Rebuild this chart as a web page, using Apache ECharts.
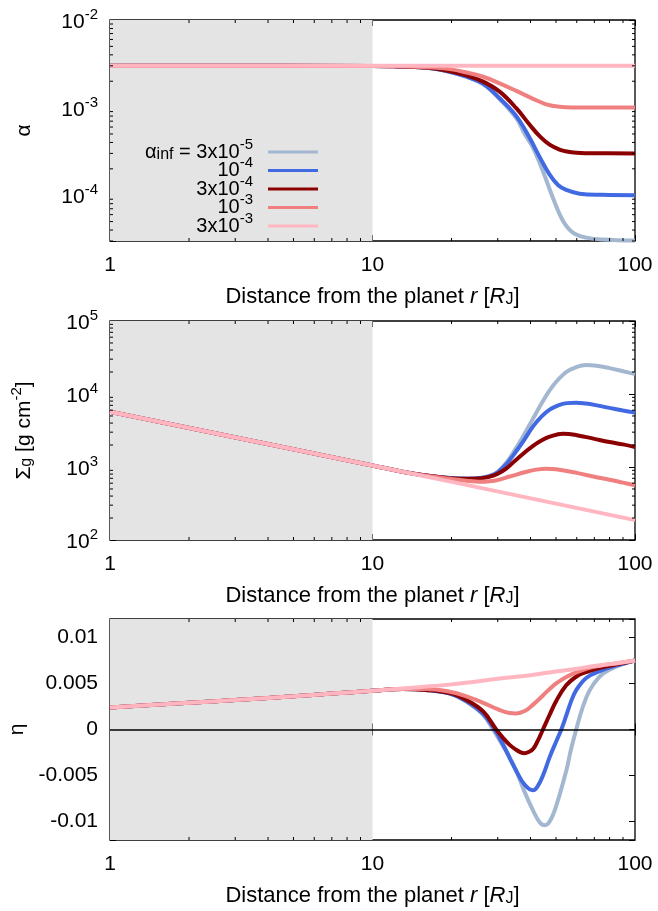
<!DOCTYPE html>
<html><head><meta charset="utf-8">
<script src="https://cdn.jsdelivr.net/npm/echarts@6/dist/echarts.min.js"></script>
<style>html,body{margin:0;padding:0;background:#fff;}#c{width:658px;height:911px;}</style>
</head><body><div id="c"></div>
<script>
const FONT = '"Liberation Sans", Arial, Helvetica, sans-serif';

// ---- series meta ----
const seriesNames = ['a3e-5', 'a1e-4', 'a3e-4', 'a1e-3', 'a3e-3'];
const legendLabels = ['{b|α}{sub|inf}{b| = 3x10}{sup|-5}', '{b|10}{sup|-4}', '{b|3x10}{sup|-4}', '{b|10}{sup|-3}', '{b|3x10}{sup|-3}'];
const colors = ['#a4b7d0', '#4169e1', '#8b0000', '#f08080', '#ffb6c1'];

// ---- ticks ----
const xTickValues = [1, 10, 100];
const xTickLabels = ['1', '10', '100'];
const minorMantissas = [2, 3, 4, 5, 6, 7, 8, 9];
const xMinorDecades = [1, 10];
const alphaTickExps = [-4, -3, -2];
const alphaTickLabels = ['{b|10}{sup|-4}', '{b|10}{sup|-3}', '{b|10}{sup|-2}'];
const alphaMinorDecades = [1e-5, 1e-4, 1e-3];
const sigmaTickExps = [2, 3, 4, 5];
const sigmaTickLabels = ['{b|10}{sup|2}', '{b|10}{sup|3}', '{b|10}{sup|4}', '{b|10}{sup|5}'];
const sigmaMinorDecades = [1e2, 1e3, 1e4];
const etaTickValues = [-0.01, -0.005, 0, 0.005, 0.01];
const etaTickLabels = ['-0.01', '-0.005', '0', '0.005', '0.01'];

// ---- alpha(r) ----
const alpha_3e5 = [[1,3.0e-3],[10,2.99e-3],[12,2.96e-3],[14.5,2.9e-3],[17,2.8e-3],[19.7,2.56e-3],[22.8,2.25e-3],[26.4,1.85e-3],[30.5,1.25e-3],[35.3,7.57e-4],[38,5.0e-4],[40.9,3.46e-4],[44.6,1.88e-4],[48.7,9.3e-5],[53.2,5.07e-5],[58,3.74e-5],[65.2,3.28e-5],[75,3.12e-5],[100,3.03e-5]];
const alpha_1e4 = [[1,3.0e-3],[10,2.99e-3],[12,2.96e-3],[14.5,2.9e-3],[17,2.8e-3],[19.7,2.57e-3],[22.8,2.26e-3],[26.4,1.87e-3],[30.5,1.28e-3],[35.3,8.0e-4],[39.7,4.5e-4],[43.4,2.7e-4],[47.3,1.72e-4],[51,1.3e-4],[54.7,1.15e-4],[61.5,1.04e-4],[75,1.01e-4],[100,1.0e-4]];
const alpha_3e4 = [[1,3.0e-3],[10,2.99e-3],[12,2.96e-3],[14.5,2.91e-3],[17,2.82e-3],[19.7,2.6e-3],[22.8,2.33e-3],[26.4,1.98e-3],[30.5,1.52e-3],[35.3,9.84e-4],[39.7,6.36e-4],[43.4,4.69e-4],[47.3,3.77e-4],[51.6,3.31e-4],[55,3.15e-4],[59.8,3.06e-4],[70,3.01e-4],[100,3.0e-4]];
const alpha_1e3 = [[1,3.0e-3],[10,2.99e-3],[12,2.97e-3],[14.5,2.93e-3],[17,2.86e-3],[19.7,2.75e-3],[22.8,2.52e-3],[26.4,2.25e-3],[30.5,1.89e-3],[35.3,1.55e-3],[40.9,1.26e-3],[45.9,1.09e-3],[51.6,1.02e-3],[58,1.003e-3],[100,1.0e-3]];
const alpha_3e3 = [[1,3.0e-3],[100,3.0e-3]];

// ---- Sigma_g(r) ----
const sigma_3e5 = [[1,5700],[10,1050],[13,862],[16,765],[19.7,708],[23,692],[26,712],[28,760],[30,860],[32.4,1150],[35,1750],[37.5,2650],[40.9,4600],[44.6,8000],[48.7,13000],[54.7,20000],[60,23500],[65.2,24900],[70,24600],[80,22600],[90,20500],[100,18700]];
const sigma_1e4 = [[1,5700],[10,1050],[13,862],[16,765],[19.7,706],[23,690],[26,708],[28,752],[30,845],[32.4,1100],[35,1580],[37.5,2250],[40.9,3600],[44,4900],[47.3,6100],[51,7000],[55,7500],[59.8,7600],[65,7400],[70,7100],[80,6450],[90,5950],[100,5560]];
const sigma_3e4 = [[1,5700],[10,1050],[13,862],[16,765],[19.7,704],[23,688],[26,700],[28,738],[30,810],[32.4,960],[35,1230],[37.5,1520],[40.9,1950],[44,2300],[47.3,2600],[53.2,2850],[60,2730],[70,2430],[80,2200],[90,2040],[100,1880]];
const sigma_1e3 = [[1,5700],[10,1050],[13,860],[16,758],[19.7,690],[22.8,650],[25.6,630],[28,640],[30,665],[33.3,740],[38.6,860],[42,920],[45.9,945],[50,930],[60,830],[70,735],[80,670],[90,610],[100,561]];
const sigma_3e3 = [[1,5700],[10,1050],[100,187]];

// ---- eta(r) ----
const eta_3e3 = [[1,0.0024],[2,0.0029],[3,0.0032],[5,0.0036],[7,0.0039],[10,0.0042],[15,0.0046],[20,0.0049],[30,0.0055],[40,0.0059],[50,0.0063],[60,0.0066],[70,0.0069],[80,0.0071],[90,0.0073],[100,0.0075]];
const eta_1e3 = [[1,0.0024],[2,0.0029],[3,0.0032],[5,0.0036],[7,0.0039],[10,0.0042],[13,0.0044],[16,0.0044],[19.7,0.0041],[22.8,0.0036],[26.4,0.0029],[30,0.0022],[33.3,0.0018],[35.3,0.00175],[38,0.0020],[40.9,0.0027],[44.6,0.0037],[47.3,0.0044],[50.1,0.0050],[54.7,0.0057],[59.8,0.0062],[65.2,0.0066],[73,0.0069],[86,0.0072],[100,0.0075]];
const eta_3e4 = [[1,0.0024],[2,0.0029],[3,0.0032],[5,0.0036],[7,0.0039],[10,0.0042],[13,0.0044],[16,0.0043],[19.7,0.00395],[22.8,0.0032],[26.4,0.00196],[29.6,0.0],[31.4,-0.0009],[33.3,-0.00167],[35.3,-0.00221],[36.7,-0.00248],[38,-0.00257],[39.3,-0.00245],[40.9,-0.00212],[42.5,-0.0013],[44.6,0.0],[47.3,0.0016],[50.1,0.0031],[54.7,0.0048],[59.8,0.00576],[65.2,0.00623],[73,0.00667],[86,0.0071],[100,0.0075]];
const eta_1e4 = [[1,0.0024],[2,0.0029],[3,0.0032],[5,0.0036],[7,0.0039],[10,0.0042],[13,0.0044],[16,0.0043],[19.7,0.0039],[22.8,0.0031],[26.4,0.0017],[29.2,0.0],[31.4,-0.0016],[33.3,-0.0031],[35.3,-0.0045],[38,-0.0060],[40.9,-0.0066],[42.5,-0.0062],[44.6,-0.0050],[47.3,-0.0030],[50.1,-0.0013],[52.4,0.0],[54.7,0.0015],[57,0.0030],[59.8,0.0043],[65.2,0.0056],[73,0.0063],[86,0.0070],[100,0.0075]];
const eta_3e5 = [[1,0.0024],[2,0.0029],[3,0.0032],[5,0.0036],[7,0.0039],[10,0.0042],[13,0.0044],[16,0.0043],[19.7,0.0039],[22.8,0.0030],[26.4,0.0016],[28.8,0.0],[31.4,-0.0018],[33.3,-0.0030],[35.3,-0.0045],[38,-0.0068],[40.9,-0.0088],[43.4,-0.0101],[45.3,-0.0104],[47.3,-0.0100],[50.1,-0.0083],[54.7,-0.0045],[57,-0.0022],[59.7,0.0],[63,0.0023],[67,0.0042],[73,0.0057],[80,0.0065],[90,0.0071],[100,0.0075]];

const alphaData = [alpha_3e5, alpha_1e4, alpha_3e4, alpha_1e3, alpha_3e3];
const sigmaData = [sigma_3e5, sigma_1e4, sigma_3e4, sigma_1e3, sigma_3e3];
const etaData = [eta_3e5, eta_1e4, eta_3e4, eta_1e3, eta_3e3];

// ---- styling / layout ----
function mkRich(size) {
  return {
    b: {fontSize: size, lineHeight: 30, fontFamily: FONT, color: '#000'},
    i: {fontSize: size, lineHeight: 30, fontFamily: FONT, fontStyle: 'italic', color: '#000'},
    sup: {fontSize: 15, lineHeight: 15, padding: [0, 0, 15, 0], fontFamily: FONT, color: '#000'},
    sub: {fontSize: 16, lineHeight: 16, padding: [6, 0, 0, 0], fontFamily: FONT, color: '#000'}
  };
}
const RICH = mkRich(21);
const RICH_T = mkRich(22);
const gridBoxes = [
  {left: 110, top: 20, width: 525, height: 221},
  {left: 110, top: 321, width: 525, height: 219},
  {left: 110, top: 619, width: 525, height: 221}
];
const xName = '{b|Distance from the planet }{i|r}{b| [}{i|R}{sub|J}{b|]}';
const yNames = ['{b|α}', '{b|Σ}{sub|g}{b| [g cm}{sup|-2}{b|]}', '{b|η}'];

function fmtX(v) {
  const i = xTickValues.findIndex(t => Math.abs(t - v) / t < 1e-6);
  return i >= 0 ? '{b|' + xTickLabels[i] + '}' : '';
}
function fmtLog(exps, labels) {
  return function (v) {
    const e = Math.log10(v), k = Math.round(e);
    if (Math.abs(e - k) > 1e-6) return '';
    const i = exps.indexOf(k);
    return i >= 0 ? labels[i] : '';
  };
}
function fmtEta(v) {
  const i = etaTickValues.findIndex(t => Math.abs(t - v) < 1e-9);
  return i >= 0 ? '{b|' + etaTickLabels[i] + '}' : '';
}

const tickStyle = {show: true, inside: true, length: 6, lineStyle: {color: '#000', width: 1}};

const xAxes = [], yAxes = [];
gridBoxes.forEach((g, gi) => {
  ['bottom', 'top'].forEach(pos => {
    xAxes.push({
      type: 'log', logBase: 10, gridIndex: gi, position: pos, min: 1, max: 100,
      axisLine: {show: false}, axisTick: tickStyle, splitLine: {show: false},
      axisLabel: {show: pos === 'bottom', margin: 9, formatter: fmtX, rich: RICH},
      name: pos === 'bottom' ? xName : '', nameLocation: 'middle', nameGap: 41,
      nameTextStyle: {rich: RICH_T}
    });
  });
  ['left', 'right'].forEach(pos => {
    const ax = {
      gridIndex: gi, position: pos,
      axisLine: {show: false}, axisTick: tickStyle, splitLine: {show: false},
      axisLabel: {show: pos === 'left', margin: 12, rich: RICH},
      name: pos === 'left' ? yNames[gi] : '', nameLocation: 'middle', nameGap: 71,
      nameTextStyle: {rich: RICH}
    };
    if (gi === 0) { Object.assign(ax, {type: 'log', logBase: 10, min: 3e-5, max: 1e-2}); ax.axisLabel.formatter = fmtLog(alphaTickExps, alphaTickLabels); ax.axisLabel.padding = [5, 0, 0, 0]; }
    if (gi === 1) { Object.assign(ax, {type: 'log', logBase: 10, min: 100, max: 1e5}); ax.axisLabel.formatter = fmtLog(sigmaTickExps, sigmaTickLabels); ax.axisLabel.padding = [5, 0, 0, 0]; }
    if (gi === 2) { Object.assign(ax, {type: 'value', min: -0.012, max: 0.012, splitNumber: 5}); ax.axisLabel.formatter = fmtEta; }
    yAxes.push(ax);
  });
});

const xMinor = [];
xMinorDecades.forEach(d => minorMantissas.forEach(m => xMinor.push(m * d)));
const yMinorSets = [[], [], null];
alphaMinorDecades.forEach(d => minorMantissas.forEach(m => { const v = m * d; if (v > 3e-5 && v < 1e-2) yMinorSets[0].push(v); }));
sigmaMinorDecades.forEach(d => minorMantissas.forEach(m => yMinorSets[1].push(m * d)));
const yRef = [1e-3, 1e3, 0];

function minorXRender(params, api) {
  const x = api.coord([api.value(0), api.value(1)])[0];
  const cs = params.coordSys;
  return {type: 'group', children: [
    {type: 'line', shape: {x1: x, y1: cs.y + cs.height, x2: x, y2: cs.y + cs.height - 3}, style: {stroke: '#000', lineWidth: 1}},
    {type: 'line', shape: {x1: x, y1: cs.y, x2: x, y2: cs.y + 3}, style: {stroke: '#000', lineWidth: 1}}
  ]};
}
function minorYRender(params, api) {
  const y = api.coord([api.value(0), api.value(1)])[1];
  const cs = params.coordSys;
  return {type: 'group', children: [
    {type: 'line', shape: {x1: cs.x, y1: y, x2: cs.x + 3, y2: y}, style: {stroke: '#000', lineWidth: 1}},
    {type: 'line', shape: {x1: cs.x + cs.width, y1: y, x2: cs.x + cs.width - 3, y2: y}, style: {stroke: '#000', lineWidth: 1}}
  ]};
}

const series = [];
[alphaData, sigmaData, etaData].forEach((set, gi) => {
  series.push({
    type: 'line', xAxisIndex: gi * 2, yAxisIndex: gi * 2, data: [], z: 1, silent: true,
    markArea: {silent: true, itemStyle: {color: '#e4e4e4'}, data: [[{xAxis: 1}, {xAxis: 10}]]}
  });
  set.forEach((d, si) => {
    series.push({
      name: seriesNames[si], type: 'line', xAxisIndex: gi * 2, yAxisIndex: gi * 2,
      data: d, smooth: 0.4, symbol: 'none', showSymbol: false, z: 2 + si * 0.01,
      lineStyle: {color: colors[si], width: 4}, itemStyle: {color: colors[si]}
    });
  });
  if (gi === 2) {
    series.push({
      type: 'line', xAxisIndex: 4, yAxisIndex: 4, data: [], z: 5, silent: true,
      markLine: {silent: true, symbol: 'none', label: {show: false}, lineStyle: {color: '#000', width: 1.5, type: 'solid'}, data: [{yAxis: 0}]}
    });
  }
  series.push({
    type: 'custom', xAxisIndex: gi * 2, yAxisIndex: gi * 2, z: 6, silent: true,
    renderItem: minorXRender, data: xMinor.map(v => [v, yRef[gi]])
  });
  if (yMinorSets[gi]) {
    series.push({
      type: 'custom', xAxisIndex: gi * 2, yAxisIndex: gi * 2, z: 6, silent: true,
      renderItem: minorYRender, data: yMinorSets[gi].map(v => [10, v])
    });
  }
});

const chart = echarts.init(document.getElementById('c'), null, {renderer: 'canvas'});
chart.setOption({
  animation: false,
  backgroundColor: '#fff',
  textStyle: {fontFamily: FONT},
  grid: gridBoxes.map(g => Object.assign({show: true, borderColor: '#000', borderWidth: 1.3, backgroundColor: 'transparent', containLabel: false, outerBoundsMode: 'none'}, g)),
  xAxis: xAxes,
  yAxis: yAxes,
  legend: {
    data: seriesNames, orient: 'vertical', align: 'right', right: 340, top: 137, padding: 0,
    itemWidth: 50, itemHeight: 10, itemGap: -11.5, selectedMode: false,
    icon: 'path://M0,4 L50,4 L50,7 L0,7 Z',
    formatter: name => legendLabels[seriesNames.indexOf(name)],
    textStyle: {rich: mkRich(20), padding: [0, 10, 0, 0]}
  },
  series: series
});
</script></body></html>
